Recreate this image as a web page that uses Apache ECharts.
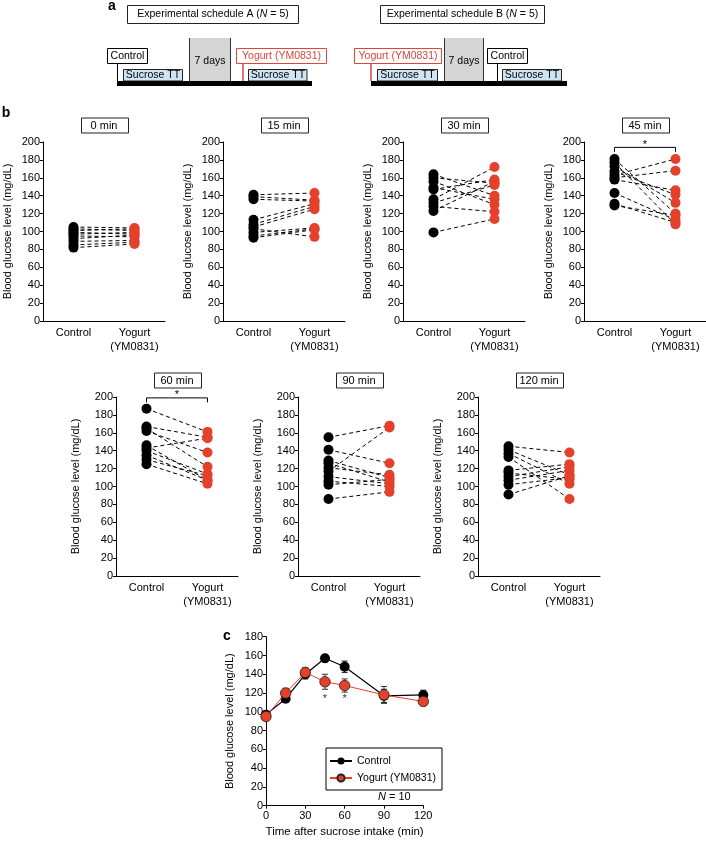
<!DOCTYPE html>
<html><head><meta charset="utf-8">
<script src="https://cdn.jsdelivr.net/npm/echarts@6/dist/echarts.min.js"></script>
<style>html,body{margin:0;padding:0;background:#fff}#c{width:706px;height:841px}</style>
</head><body><div id="c"></div>
<script>
// ---------------- DATA ----------------
const categories = ['Control', 'Yogurt\n(YM0831)'];
const panelTitles = ['0 min', '15 min', '30 min', '45 min', '60 min', '90 min', '120 min'];
const yTickMin = 0, yTickMax = 200, yTickStep = 20;

const control0 = [105, 103, 101, 99, 97, 95, 92, 89, 85, 82];
const yogurt0  = [104, 101, 103, 97, 99, 94, 96, 90, 88, 86];
const control15 = [141, 139, 136, 113, 108, 105, 103, 99, 95, 93];
const yogurt15  = [143, 135, 134, 131, 128, 125, 94, 104, 103, 102];
const control30 = [164, 160, 156, 149, 147, 136, 132, 128, 123, 99];
const yogurt30  = [140, 154, 130, 136, 158, 172, 152, 122, 156, 114];
const control45 = [181, 177, 173, 167, 163, 160, 158, 143, 131, 129];
const yogurt45  = [120, 108, 132, 141, 181, 168, 146, 113, 110, 118];
const control60 = [187, 167, 165, 162, 146, 143, 140, 135, 130, 125];
const yogurt60  = [161, 155, 122, 138, 107, 154, 114, 107, 112, 103];
const control90 = [155, 141, 129, 126, 121, 117, 111, 106, 102, 86];
const yogurt90  = [168, 126, 110, 105, 113, 166, 103, 100, 108, 94];
const control120 = [145, 141, 137, 133, 118, 115, 111, 107, 102, 91];
const yogurt120  = [138, 113, 103, 86, 125, 108, 122, 118, 110, 112];

const controlPanels = [control0, control15, control30, control45, control60, control90, control120];
const yogurtPanels  = [yogurt0, yogurt15, yogurt30, yogurt45, yogurt60, yogurt90, yogurt120];
const significantPanels = [3, 4];          // 45 min, 60 min

// panel c
const timePoints  = [0, 15, 30, 45, 60, 90, 120];
const controlMean = [97, 114, 140, 157, 148, 117, 118];
const controlSEM  = [3, 4, 5, 4, 6, 7, 5];
const yogurtMean  = [95, 120, 142, 132, 128, 118, 111];
const yogurtSEM   = [3, 5, 5, 8, 7, 9, 3];
const significantTimes = [45, 60];
const timeTicks = {min: 0, max: 120, step: 30};
const glucoseTicks = {min: 0, max: 180, step: 20};

// ---------------- LAYOUT / STYLE ----------------
const FONT = "'Liberation Sans', Arial, Helvetica, sans-serif";
const RED = '#e5402b';
const RED_A = '#d8473c';
const PW = 122, PH = 179;
const panelPos = [
  {left: 43, top: 142, gap: 30}, {left: 223, top: 142, gap: 30}, {left: 403, top: 142, gap: 30}, {left: 584, top: 142, gap: 30},
  {left: 116, top: 397, gap: 35}, {left: 298, top: 397, gap: 35}, {left: 478, top: 397, gap: 35}
];
const bracketLevels = {3: [189, 194], 4: [194, 199]};

const grids = [], xAxes = [], yAxes = [], series = [];
const axisLineStyle = {lineStyle: {color: '#000', width: 1}};
const tickStyle = {lineStyle: {color: '#000', width: 1}};

panelPos.forEach((p, i) => {
  grids.push({left: p.left, top: p.top, width: PW, height: PH, containLabel: false, outerBoundsMode: 'none'});
  xAxes.push({
    type: 'category', gridIndex: i, data: categories, boundaryGap: true,
    axisLine: axisLineStyle, axisTick: Object.assign({alignWithLabel: true, length: 3}, tickStyle),
    axisLabel: {color: '#000', fontSize: 11, fontFamily: FONT, margin: 5, lineHeight: 14, interval: 0},
    splitLine: {show: false}
  });
  yAxes.push({
    type: 'value', gridIndex: i, min: yTickMin, max: yTickMax, interval: yTickStep,
    name: 'Blood glucose level (mg/dL)', nameLocation: 'middle', nameGap: p.gap,
    nameTextStyle: {color: '#000', fontSize: 11, fontFamily: FONT},
    axisLine: Object.assign({show: true}, axisLineStyle),
    axisTick: Object.assign({show: true, length: 3}, tickStyle),
    axisLabel: {color: '#000', fontSize: 11, fontFamily: FONT, margin: 3},
    splitLine: {show: false}
  });
  const c = controlPanels[i], y = yogurtPanels[i];
  series.push({
    type: 'lines', coordinateSystem: 'cartesian2d', xAxisIndex: i, yAxisIndex: i, silent: true, z: 2,
    lineStyle: {color: '#000', width: 1, type: [4, 3], opacity: 1},
    data: c.map((v, k) => ({coords: [[0, v], [1, y[k]]]}))
  });
  series.push({
    type: 'scatter', xAxisIndex: i, yAxisIndex: i, symbol: 'circle', symbolSize: 10, z: 3, silent: true,
    itemStyle: {color: '#000', opacity: 1}, data: c.map(v => [0, v])
  });
  series.push({
    type: 'scatter', xAxisIndex: i, yAxisIndex: i, symbol: 'circle', symbolSize: 10, z: 3, silent: true,
    itemStyle: {color: RED, opacity: 1}, data: y.map(v => [1, v])
  });
  if (significantPanels.includes(i)) {
    const [lo, hi] = bracketLevels[i];
    series.push({
      type: 'line', xAxisIndex: i, yAxisIndex: i, showSymbol: false, symbol: 'none', clip: false, silent: true, z: 4,
      lineStyle: {color: '#000', width: 1}, data: [[0, lo], [0, hi], [1, hi], [1, lo]]
    });
  }
});

// panel c
const CI = panelPos.length;
grids.push({left: 266, top: 636.7, width: 157.3, height: 169, containLabel: false, outerBoundsMode: 'none'});
xAxes.push({
  type: 'value', gridIndex: CI, min: timeTicks.min, max: timeTicks.max, interval: timeTicks.step,
  name: 'Time after sucrose intake (min)', nameLocation: 'middle', nameGap: 20,
  nameTextStyle: {color: '#000', fontSize: 11.5, fontFamily: FONT},
  axisLine: axisLineStyle, axisTick: Object.assign({show: true, length: 3}, tickStyle),
  axisLabel: {color: '#000', fontSize: 11, fontFamily: FONT, margin: 5}, splitLine: {show: false}
});
yAxes.push({
  type: 'value', gridIndex: CI, min: glucoseTicks.min, max: glucoseTicks.max, interval: glucoseTicks.step,
  name: 'Blood glucose level (mg/dL)', nameLocation: 'middle', nameGap: 31,
  nameTextStyle: {color: '#000', fontSize: 11, fontFamily: FONT},
  axisLine: Object.assign({show: true}, axisLineStyle), axisTick: Object.assign({show: true, length: 3}, tickStyle),
  axisLabel: {color: '#000', fontSize: 11, fontFamily: FONT, margin: 3}, splitLine: {show: false}
});
function errRender(params, api) {
  const x = api.value(0), lo = api.value(1), hi = api.value(2);
  const a = api.coord([x, lo]), b = api.coord([x, hi]);
  const s = {stroke: api.visual('color'), lineWidth: 1};
  return {type: 'group', children: [
    {type: 'line', shape: {x1: a[0], y1: a[1], x2: b[0], y2: b[1]}, style: s},
    {type: 'line', shape: {x1: a[0] - 3, y1: a[1], x2: a[0] + 3, y2: a[1]}, style: s},
    {type: 'line', shape: {x1: b[0] - 3, y1: b[1], x2: b[0] + 3, y2: b[1]}, style: s}
  ]};
}
series.push({
  type: 'custom', xAxisIndex: CI, yAxisIndex: CI, renderItem: errRender, z: 1, silent: true,
  itemStyle: {color: '#111'},
  data: timePoints.map((t, k) => [t, controlMean[k] - controlSEM[k], controlMean[k] + controlSEM[k]])
});
series.push({
  type: 'custom', xAxisIndex: CI, yAxisIndex: CI, renderItem: errRender, z: 1, silent: true,
  itemStyle: {color: '#333'},
  data: timePoints.map((t, k) => [t, yogurtMean[k] - yogurtSEM[k], yogurtMean[k] + yogurtSEM[k]])
});
series.push({
  name: 'Control', type: 'line', xAxisIndex: CI, yAxisIndex: CI, symbol: 'circle', symbolSize: 10, z: 3,
  itemStyle: {color: '#000'}, lineStyle: {color: '#000', width: 1.2},
  data: timePoints.map((t, k) => [t, controlMean[k]])
});
series.push({
  name: 'Yogurt (YM0831)', type: 'line', xAxisIndex: CI, yAxisIndex: CI, symbol: 'circle', symbolSize: 10.5, z: 4,
  itemStyle: {color: RED, borderColor: '#222', borderWidth: 0.8}, lineStyle: {color: RED, width: 1},
  data: timePoints.map((t, k) => [t, yogurtMean[k]])
});
series.push({
  type: 'scatter', xAxisIndex: CI, yAxisIndex: CI, symbolSize: 0, silent: true, z: 5,
  label: {show: true, position: 'inside', formatter: '*', color: '#000', fontSize: 11, fontFamily: FONT},
  data: significantTimes.map(t => [t, 114])
});

const chart = echarts.init(document.getElementById('c'), null, {renderer: 'canvas'});
chart.setOption({
  animation: false,
  backgroundColor: '#fff',
  textStyle: {fontFamily: FONT},
  grid: grids, xAxis: xAxes, yAxis: yAxes, series: series,
  legend: {
    data: ['Control', 'Yogurt (YM0831)'], orient: 'vertical', left: 326, top: 748,
    borderColor: '#000', borderWidth: 1, borderRadius: 0, padding: [7.5, 6, 6.5, 3],
    itemWidth: 22, itemHeight: 9, itemGap: 6,
    textStyle: {color: '#000', fontSize: 10.5, fontFamily: FONT}
  }
});

// ---------------- ANNOTATIONS ----------------
const g = [];
function txt(x, y, text, opts) {
  g.push({type: 'text', x: x, y: y, silent: true, style: Object.assign({
    text: text, fill: '#000', font: '10.5px ' + FONT, align: 'center', verticalAlign: 'middle'
  }, opts || {})});
}
function rect(x, y, w, h, fill, stroke, lw) {
  g.push({type: 'rect', silent: true, shape: {x: x, y: y, width: w, height: h},
    style: {fill: fill, stroke: stroke || null, lineWidth: lw == null ? 1 : lw}});
}
function vline(x, y1, y2, color, lw) {
  g.push({type: 'line', silent: true, shape: {x1: x, y1: y1, x2: x, y2: y2}, style: {stroke: color, lineWidth: lw || 1}});
}
function richTitle(cx, cy, letter) {
  g.push({type: 'text', x: cx, y: cy, silent: true, style: {
    text: '{n|Experimental schedule ' + letter + ' (}{i|N}{n| = 5)}',
    align: 'center', verticalAlign: 'middle', fill: '#000', font: '10.5px ' + FONT,
    rich: {n: {fontSize: 10.5, fontFamily: FONT, fill: '#000'}, i: {fontSize: 10.5, fontFamily: FONT, fontStyle: 'italic', fill: '#000'}}
  }});
}
// panel letters
txt(112, 6, 'a', {font: 'bold 14px ' + FONT});
txt(6, 113, 'b', {font: 'bold 14px ' + FONT});
txt(227, 636, 'c', {font: 'bold 14px ' + FONT});

// panel a: schedule A
rect(127.5, 5.5, 171, 18, '#fff', '#222');
richTitle(213, 14.5, 'A');
rect(189, 38, 42, 44, '#d5d5d5', null, 0);
vline(189.5, 38, 82, '#333'); vline(230.5, 38, 82, '#333');
txt(210, 61, '7 days');
vline(117.5, 63, 81, '#000');
rect(107.5, 48.5, 40, 15, '#fff', '#000');
txt(127.5, 56, 'Control');
rect(123.5, 69.5, 59, 11.5, '#cfe5f2', '#222');
txt(153, 75.5, 'Sucrose TT');
vline(243, 63, 81, RED_A, 1.5);
rect(236.5, 48.5, 90, 15, '#fff', RED_A);
txt(281.5, 56, 'Yogurt (YM0831)', {fill: RED_A});
rect(248.5, 69.5, 58.5, 11.5, '#cfe5f2', '#222');
txt(278, 75.5, 'Sucrose TT');
rect(117, 81, 195, 5, '#000');

// schedule B
rect(380.5, 5.5, 164, 18, '#fff', '#222');
richTitle(462.5, 14.5, 'B');
rect(444, 38, 40, 44, '#d5d5d5', null, 0);
vline(444.5, 38, 82, '#333'); vline(483.5, 38, 82, '#333');
txt(464, 61, '7 days');
vline(371, 63, 81, RED_A, 1.5);
rect(354.5, 48.5, 87, 15, '#fff', RED_A);
txt(398, 56, 'Yogurt (YM0831)', {fill: RED_A});
rect(377.5, 69.5, 60, 11.5, '#cfe5f2', '#222');
txt(407.5, 75.5, 'Sucrose TT');
vline(497.5, 63, 81, '#000');
rect(487.5, 48.5, 40, 15, '#fff', '#000');
txt(507.5, 56, 'Control');
rect(502.5, 69.5, 59, 11.5, '#cfe5f2', '#222');
txt(532, 75.5, 'Sucrose TT');
rect(371, 81, 196, 5, '#000');

// panel titles (boxes)
panelPos.forEach((p, i) => {
  const cx = p.left + PW / 2;
  const cy = p.top - 16.5;
  rect(Math.round(cx - 23.5) + 0.5, cy - 7.5, 47, 15, '#fff', '#222');
  txt(cx, cy + 0.5, panelTitles[i], {font: '11px ' + FONT});
});
// significance stars over brackets
significantPanels.forEach(i => {
  const hi = bracketLevels[i][1];
  const a = chart.convertToPixel({xAxisIndex: i, yAxisIndex: i}, [0, hi + 3]);
  const b = chart.convertToPixel({xAxisIndex: i, yAxisIndex: i}, [1, hi + 3]);
  txt((a[0] + b[0]) / 2, a[1], '*', {font: '11px ' + FONT});
});
// N = 10
g.push({type: 'text', x: 378, y: 797, silent: true, style: {
  text: '{i|N}{n| = 10}', align: 'left', verticalAlign: 'middle', fill: '#000',
  rich: {n: {fontSize: 11, fontFamily: FONT, fill: '#000'}, i: {fontSize: 11, fontFamily: FONT, fontStyle: 'italic', fill: '#000'}}
}});

chart.setOption({graphic: {elements: g}});
</script>
</body></html>
